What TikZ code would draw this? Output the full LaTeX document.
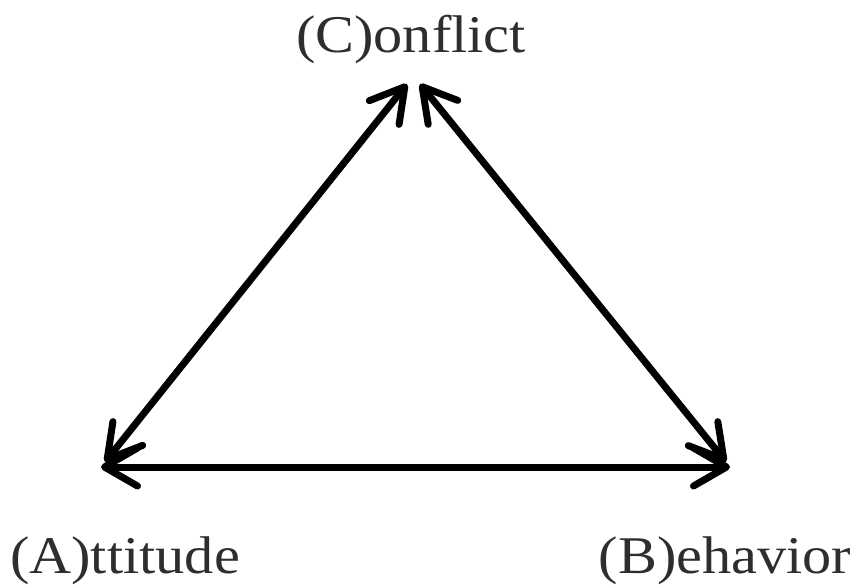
\documentclass[tikz,border=0pt]{standalone}
\usepackage{fontspec}
\setmainfont{Liberation Serif}
\usetikzlibrary{arrows.meta}
\definecolor{txt}{HTML}{2E2E2E}
\tikzset{
  lbl/.style={text=txt, font=\fontsize{53}{60}\selectfont, inner sep=0pt, xscale=1.1, anchor=base},
  conn/.style={line width=7pt, line cap=round, line join=round,
    {Straight Barb[length=33pt,width=38pt,line cap=round,line join=round]}-{Straight Barb[length=33pt,width=38pt,line cap=round,line join=round]}}
}
\begin{document}
\begin{tikzpicture}[x=1pt,y=-1pt]
\useasboundingbox (0,0) rectangle (861,584);
\node[lbl] (C) at (411,52) {(C)onflict};
\node[lbl] (A) at (125,573) {(A)ttitude};
\node[lbl] (B) at (725,573) {(B)ehavior};
\coordinate (cl) at (407,84);
\coordinate (cr) at (420,84);
\coordinate (al) at (105,462);
\coordinate (ab) at (101,467);
\coordinate (br) at (726,462);
\coordinate (bb) at (730,467);
\draw[conn] (al) -- (cl);
\draw[conn] (cr) -- (br);
\draw[conn] (ab) -- (bb);
\end{tikzpicture}
\end{document}
